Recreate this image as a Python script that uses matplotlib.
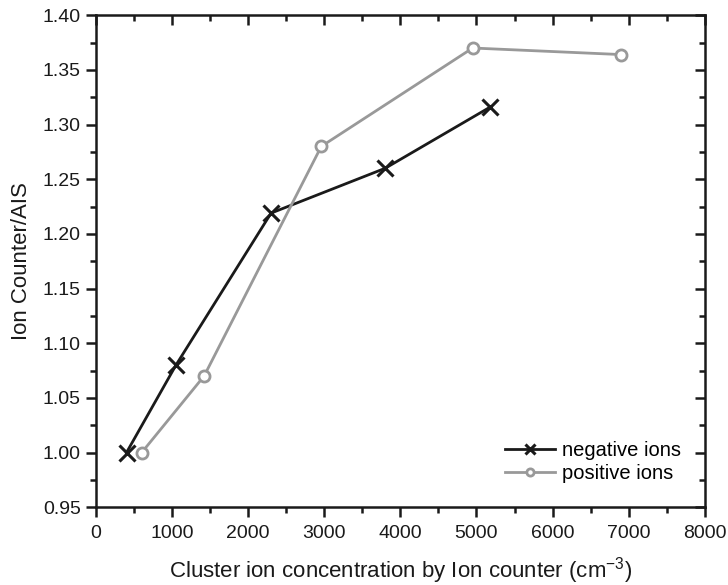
import matplotlib
matplotlib.use("Agg")
import matplotlib.pyplot as plt
from matplotlib.ticker import MultipleLocator, FormatStrFormatter, NullFormatter

plt.rcParams["font.family"] = ["Liberation Sans", "DejaVu Sans"]
plt.rcParams["mathtext.default"] = "regular"

neg_x = [400, 1050, 2300, 3800, 5180]
neg_y = [1.00, 1.08, 1.219, 1.26, 1.316]
pos_x = [600, 1420, 2960, 4950, 6900]
pos_y = [1.00, 1.07, 1.28, 1.37, 1.364]

INK = "#1a1a1a"

fig = plt.figure(figsize=(7.28, 5.85), dpi=100)
ax = fig.add_axes([0.132, 0.133, 0.836, 0.841])

ax.plot(neg_x, neg_y, color=INK, lw=2, marker="x", ms=11, mew=2.2,
        label="negative ions")
ax.plot(pos_x, pos_y, color="#999999", lw=2, marker="o", ms=8, mew=2,
        mfc="white", label="positive ions")

ax.set_xlim(0, 8000)
ax.set_ylim(0.95, 1.40)
ax.xaxis.set_major_locator(MultipleLocator(1000))
ax.xaxis.set_minor_locator(MultipleLocator(500))
ax.yaxis.set_major_locator(MultipleLocator(0.05))
ax.yaxis.set_minor_locator(MultipleLocator(0.025))
ax.yaxis.set_major_formatter(FormatStrFormatter("%.2f"))

# bottom/left ticks point outward
ax.tick_params(which="both", direction="out", width=1.8, labelsize=14,
               colors=INK, pad=4)
ax.tick_params(which="major", length=7)
ax.tick_params(which="minor", length=4.5)
ax.tick_params(axis="x", pad=6)

# top/right ticks point inward, no labels
top = ax.secondary_xaxis("top")
right = ax.secondary_yaxis("right")
top.xaxis.set_major_locator(MultipleLocator(1000))
top.xaxis.set_minor_locator(MultipleLocator(500))
right.yaxis.set_major_locator(MultipleLocator(0.05))
right.yaxis.set_minor_locator(MultipleLocator(0.025))
for sec in (top, right):
    sec.tick_params(which="both", direction="in", width=1.8, colors=INK)
    sec.tick_params(which="major", length=7)
    sec.tick_params(which="minor", length=4.5)
    for s in sec.spines.values():
        s.set_visible(False)
top.xaxis.set_major_formatter(NullFormatter())
right.yaxis.set_major_formatter(NullFormatter())

for s in ax.spines.values():
    s.set_linewidth(1.8)
    s.set_color(INK)

ax.set_xlabel("Cluster ion concentration by Ion counter (cm$^{-3}$)",
              fontsize=16, labelpad=9, color=INK)
ax.set_ylabel("Ion Counter/AIS", fontsize=16, labelpad=8, color=INK)

leg = ax.legend(loc="lower right", frameon=False, fontsize=14.5,
                handlelength=2.5, handletextpad=0.3, borderaxespad=0.8,
                labelspacing=0.2, markerscale=0.65)

fig.savefig("out.png", dpi=100)
